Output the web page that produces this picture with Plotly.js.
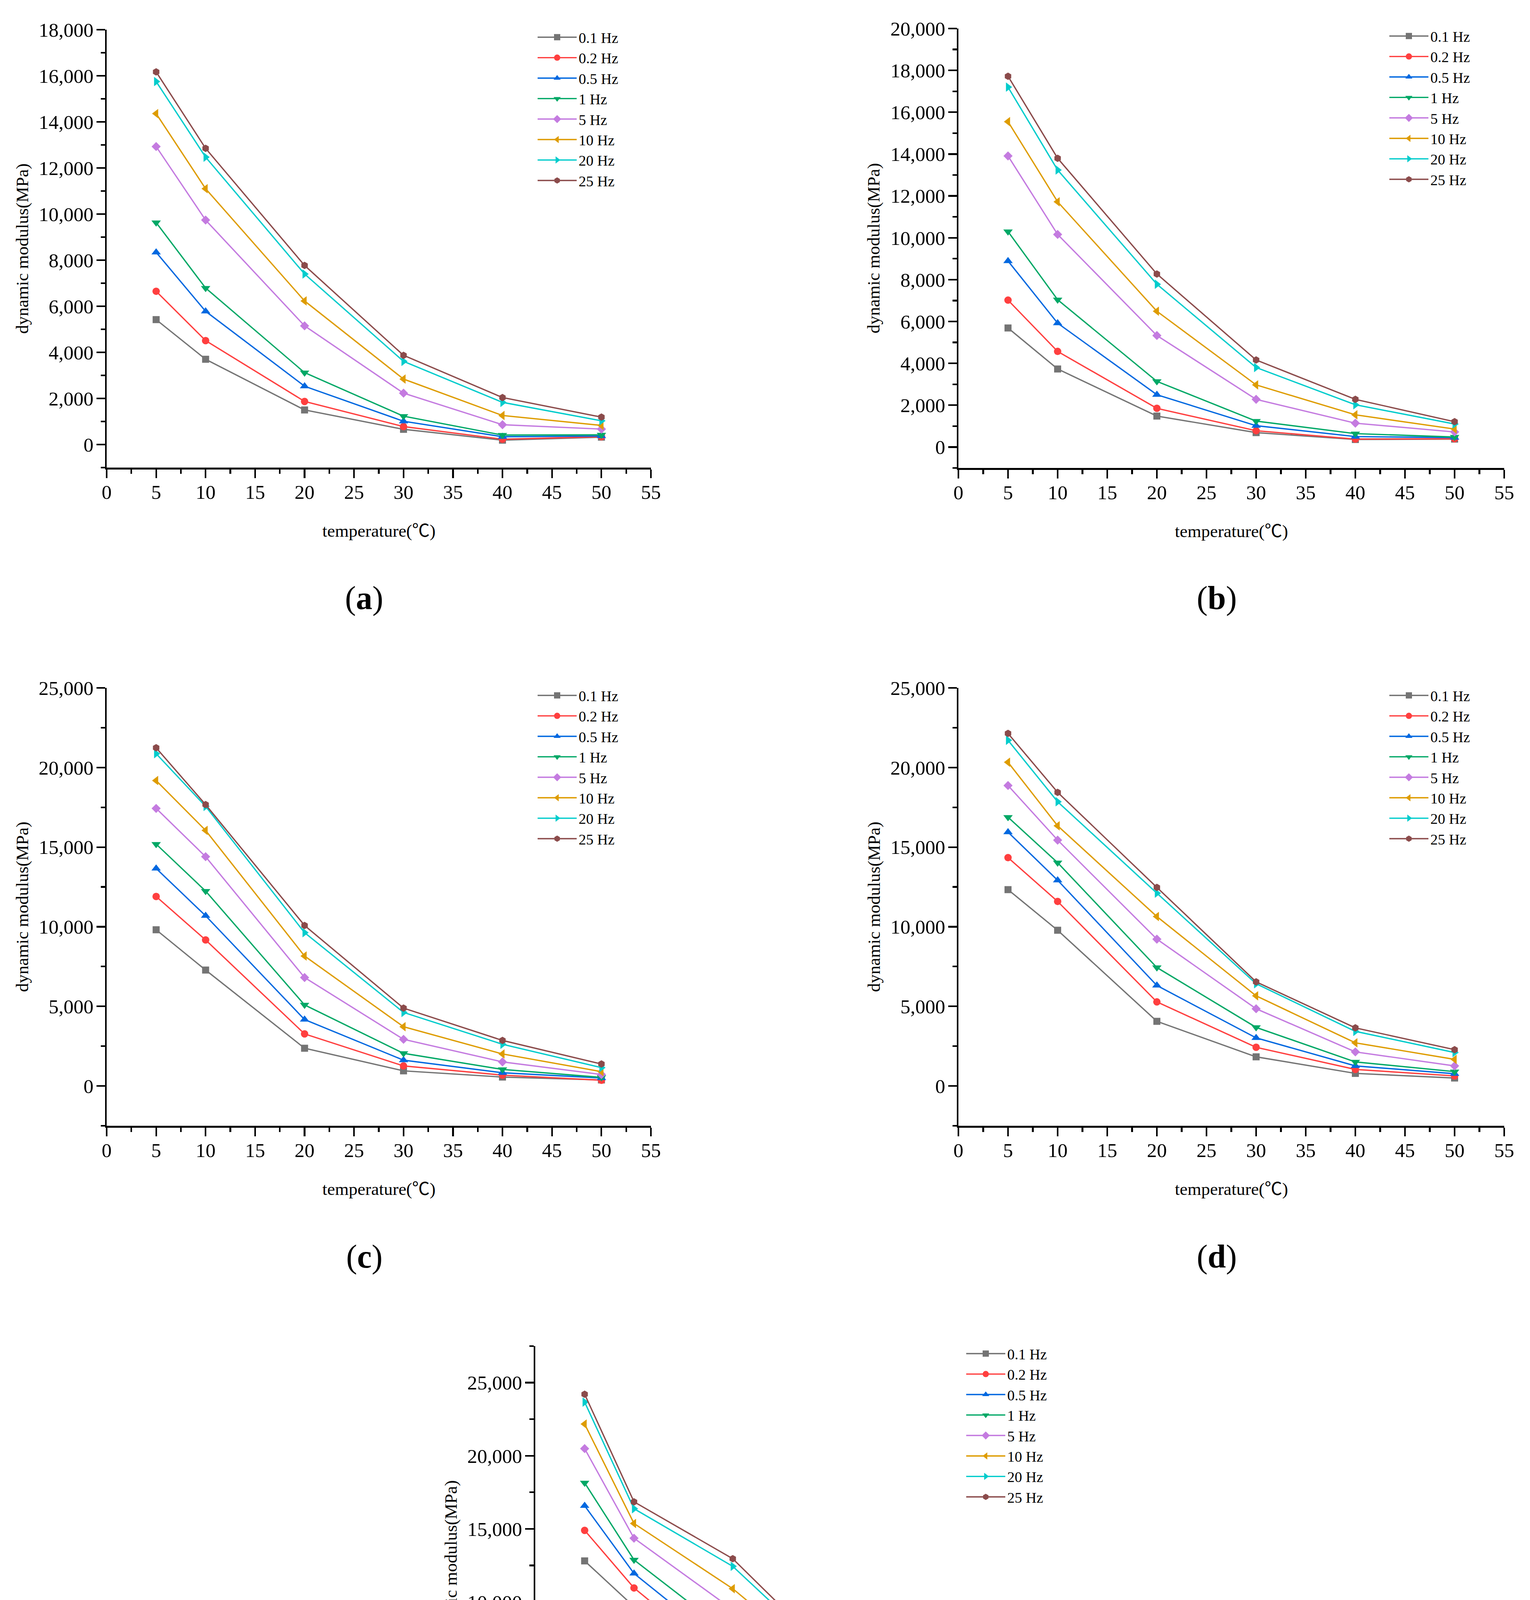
<!DOCTYPE html>
<html>
<head>
<meta charset="utf-8">
<script src="https://cdn.plot.ly/plotly-3.0.1.min.js"></script>
<style>
  html, body { margin: 0; padding: 0; background: #fff; }
</style>
</head>
<body>
<div id="chart"></div>
<script>
/* Dynamic modulus vs temperature, five panels (a)-(e), 8 loading frequencies each */

const temps = [5, 10, 20, 30, 40, 50];
const freqs = ['0.1 Hz', '0.2 Hz', '0.5 Hz', '1 Hz', '5 Hz', '10 Hz', '20 Hz', '25 Hz'];

// rows follow freqs, columns follow temps (MPa)
const modA = [
    [5420, 3700, 1500, 660, 190, 320],
    [6650, 4510, 1870, 780, 230, 340],
    [8340, 5780, 2530, 1010, 340, 370],
    [9630, 6790, 3120, 1230, 410, 420],
    [12930, 9740, 5150, 2230, 860, 670],
    [14360, 11100, 6230, 2840, 1260, 830],
    [15750, 12470, 7400, 3610, 1830, 1030],
    [16170, 12850, 7770, 3870, 2040, 1190]
];
const modB = [
    [5690, 3730, 1480, 690, 360, 380],
    [7020, 4570, 1850, 780, 380, 400],
    [8890, 5920, 2500, 1020, 500, 450],
    [10300, 7040, 3140, 1240, 640, 480],
    [13910, 10160, 5330, 2280, 1140, 720],
    [15550, 11720, 6490, 2970, 1540, 860],
    [17200, 13240, 7780, 3800, 2020, 1100],
    [17720, 13800, 8270, 4160, 2280, 1210]
];
const modC = [
    [9810, 7280, 2370, 950, 560, 380],
    [11900, 9170, 3270, 1260, 680, 360],
    [13660, 10690, 4170, 1620, 830, 500],
    [15190, 12240, 5090, 2050, 1040, 540],
    [17430, 14400, 6810, 2930, 1510, 720],
    [19180, 16050, 8160, 3720, 2010, 900],
    [20870, 17560, 9630, 4620, 2620, 1150],
    [21240, 17670, 10080, 4890, 2860, 1380]
];
const modD = [
    [12330, 9780, 4060, 1830, 790, 500],
    [14340, 11590, 5280, 2430, 1040, 630],
    [15940, 12920, 6310, 3020, 1260, 770],
    [16880, 14020, 7440, 3680, 1510, 900],
    [18870, 15440, 9220, 4850, 2140, 1260],
    [20330, 16340, 10640, 5660, 2710, 1670],
    [21710, 17850, 12110, 6420, 3430, 2100],
    [22140, 18440, 12470, 6540, 3650, 2280]
];
const modE = [
    [12810, 9680, 4160, 1650, 690, 390],
    [14900, 10960, 5420, 2240, 890, 470],
    [16580, 11950, 6530, 2830, 1110, 620],
    [18150, 12880, 7660, 3450, 1380, 760],
    [20490, 14360, 9480, 4510, 1970, 1060],
    [22170, 15370, 10910, 5300, 2560, 1380],
    [23670, 16380, 12440, 6130, 3250, 1770],
    [24210, 16850, 12960, 6310, 3520, 2070]
];

const COLORS  = ['#747474', '#ff3f3f', '#0068e0', '#00a866', '#c47be0', '#de9c00', '#00cccc', '#8b4b4b'];
const SYMBOLS = ['square', 'circle', 'triangle-up', 'triangle-down', 'diamond', 'triangle-left', 'triangle-right', 'hexagon'];
const SIZES   = [18, 19, 21, 21, 18, 21, 21, 19];

const W = 3916, H = 4970;
const FONT = 'Liberation Serif, Times New Roman, Noto Sans CJK SC, serif';

// panel frames in pixels
const panels = [
    { data: modA, tag: 'a', left: 273,  right: 1666, top: 76,   bottom: 1197, range: [-1000, 18000], dtick: 2000, minor: 1000, lab: [932, 1531] },
    { data: modB, tag: 'b', left: 2453, right: 3850, top: 73,   bottom: 1198, range: [-1000, 20000], dtick: 2000, minor: 1000, lab: [3114, 1531] },
    { data: modC, tag: 'c', left: 273,  right: 1666, top: 1761, bottom: 2882, range: [-2500, 25000], dtick: 5000, minor: 2500, lab: [932, 3217] },
    { data: modD, tag: 'd', left: 2453, right: 3850, top: 1761, bottom: 2882, range: [-2500, 25000], dtick: 5000, minor: 2500, lab: [3114, 3217] },
    { data: modE, tag: 'e', left: 1370, right: 2760, top: 3446, bottom: 4569, range: [-2500, 27500], dtick: 5000, minor: 2500, lab: [2028, 4903] }
];

const fx = (px) => px / W;
const fy = (py) => 1 - py / H;

const traces = [];
const layout = {
    width: W, height: H, autosize: false,
    margin: { l: 0, r: 0, t: 0, b: 0 },
    paper_bgcolor: '#fff', plot_bgcolor: '#fff',
    font: { family: FONT, color: '#000' },
    annotations: []
};

const axisCommon = {
    showgrid: false, zeroline: false, showline: true,
    linecolor: '#000', linewidth: 4.5,
    ticks: 'outside', ticklen: 22, tickwidth: 4.2, tickcolor: '#000',
    tickfont: { size: 51, family: FONT, color: '#000' },
    fixedrange: true
};

panels.forEach(function (p, i) {
    const n = i === 0 ? '' : String(i + 1);
    const xa = 'x' + n, ya = 'y' + n;
    const lg = 'legend' + n;

    p.data.forEach(function (vals, j) {
        traces.push({
            type: 'scatter', mode: 'lines+markers',
            x: temps, y: vals, name: freqs[j],
            xaxis: xa, yaxis: ya, legend: lg,
            line: { color: COLORS[j], width: 3.4 },
            marker: { symbol: SYMBOLS[j], size: SIZES[j], color: COLORS[j], line: { width: 0 } },
            cliponaxis: false
        });
    });

    layout['xaxis' + n] = Object.assign({}, axisCommon, {
        domain: [fx(p.left), fx(p.right)], anchor: ya,
        range: [0, 55], tick0: 0, dtick: 5,
        minor: { dtick: 2.5, ticks: 'outside', ticklen: 11, tickwidth: 4.2, tickcolor: '#000' },
        ticklabelstandoff: -8
    });
    layout['yaxis' + n] = Object.assign({}, axisCommon, {
        domain: [fy(p.bottom), fy(p.top)], anchor: xa,
        range: p.range, tick0: 0, dtick: p.dtick, tickformat: ',d',
        minor: { dtick: p.minor, ticks: 'outside', ticklen: 11, tickwidth: 4.2, tickcolor: '#000' },
        ticklabelstandoff: -3
    });

    layout[lg] = {
        x: fx(p.left + 1100 - 2), y: fy(p.top - 12), xanchor: 'left', yanchor: 'top',
        bgcolor: 'rgba(0,0,0,0)', borderwidth: 0, tracegroupgap: 0, itemwidth: 100,
        font: { size: 38, family: FONT, color: '#000' }
    };

    const cx = (p.left + p.right) / 2;
    const cy = (p.top + p.bottom) / 2;

    // axis titles
    layout.annotations.push({
        xref: 'paper', yref: 'paper', x: fx(cx), y: fy(p.bottom + 162),
        text: 'temperature(℃)', showarrow: false, xanchor: 'center', yanchor: 'middle',
        font: { size: 45, family: FONT, color: '#000' }
    });
    layout.annotations.push({
        xref: 'paper', yref: 'paper', x: fx(p.left - 217), y: fy(cy),
        text: 'dynamic modulus(MPa)', showarrow: false, textangle: -90,
        xanchor: 'center', yanchor: 'middle',
        font: { size: 45, family: FONT, color: '#000' }
    });
    // panel tag
    layout.annotations.push({
        xref: 'paper', yref: 'paper', x: fx(p.lab[0]), y: fy(p.lab[1]),
        text: '(<b>' + p.tag + '</b>)', showarrow: false, xanchor: 'center', yanchor: 'middle',
        font: { size: 84, family: FONT, color: '#000' }
    });
});

Plotly.newPlot('chart', traces, layout, { displayModeBar: false, staticPlot: true });
</script>
</body>
</html>
